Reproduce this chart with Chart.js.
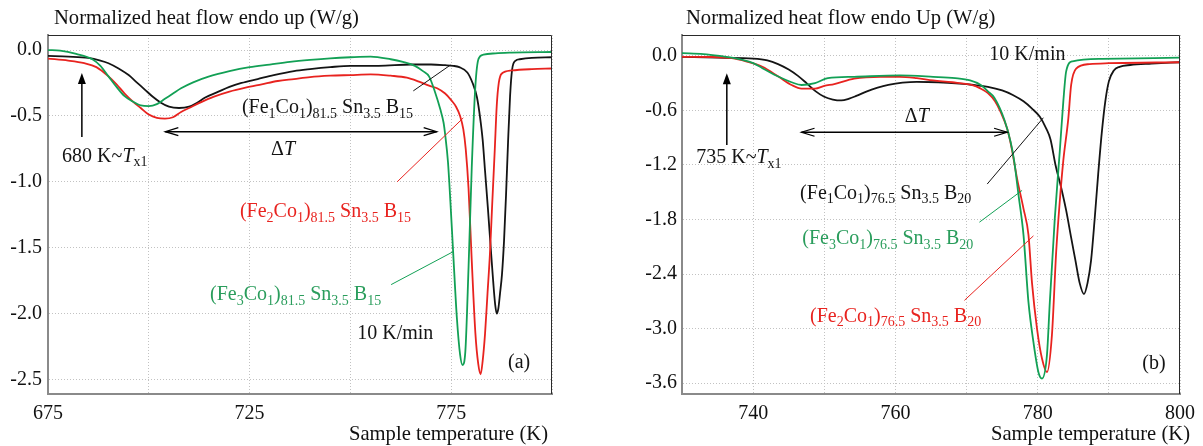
<!DOCTYPE html>
<html><head><meta charset="utf-8">
<script src="https://cdn.jsdelivr.net/npm/chart.js@4.4.0/dist/chart.umd.min.js"></script>
<style>
html,body{margin:0;padding:0;background:#fff;width:1203px;height:446px;overflow:hidden}
#a{position:absolute;left:0;top:0}
#b{position:absolute;left:600px;top:0}
</style></head><body>
<canvas id="a" width="600" height="446"></canvas>
<canvas id="b" width="603" height="446"></canvas>
<script>
// ---------------- (a) panel data ----------------
const aGreenT = [675,678,682,686,688,690,692,694,696,698,700,702,704,706,708,711,715,720,725,730,735,740,745,750,755,760,763,766,768,769.5,771,772.3,773.1,773.5,774.2,774.8,775.6,776.4,777.2,777.8,778.5,779.3,780.1,781,781.8,783,786,790,800];
const aGreenV = [0.00,-0.005,-0.03,-0.07,-0.12,-0.20,-0.28,-0.35,-0.39,-0.42,-0.425,-0.41,-0.37,-0.33,-0.29,-0.245,-0.20,-0.16,-0.13,-0.11,-0.09,-0.075,-0.063,-0.055,-0.05,-0.07,-0.09,-0.12,-0.16,-0.20,-0.32,-0.45,-0.55,-0.64,-0.85,-1.15,-1.6,-2.03,-2.31,-2.39,-2.29,-1.65,-0.89,-0.27,-0.065,-0.035,-0.025,-0.02,-0.015];

const aRedT = [675,680,684,687,690,692,694,696,698,700,702,704,706,708,710,713,716,720,724,728,732,736,740,745,750,755,760,764,767,769.5,771.5,773.5,775,776.2,777.2,778,778.6,779.3,780.1,781,781.7,782.3,782.8,783.4,784,784.6,785.2,785.8,786.3,786.8,787.5,790,795,800];
const aRedV = [-0.065,-0.08,-0.10,-0.13,-0.20,-0.26,-0.33,-0.39,-0.44,-0.49,-0.515,-0.52,-0.51,-0.47,-0.44,-0.395,-0.355,-0.315,-0.285,-0.26,-0.235,-0.22,-0.205,-0.195,-0.19,-0.185,-0.195,-0.21,-0.24,-0.27,-0.29,-0.33,-0.38,-0.43,-0.50,-0.60,-0.75,-1.05,-1.60,-2.15,-2.38,-2.46,-2.36,-2.15,-1.85,-1.55,-1.15,-0.76,-0.42,-0.25,-0.18,-0.155,-0.145,-0.14];

const aBlackT = [675,680,685,688,690,692.5,695,697,699,701,703,705,707.5,710,712,714,717,720,723,727,731,736,740,745,750,757,765,770,773.5,775.5,777,779,780.3,781.4,782.2,782.8,783.4,784.1,784.8,785.4,785.9,786.3,786.7,787.1,787.6,788.1,788.6,789.1,789.6,790.1,791,792,795,800];
const aBlackV = [-0.045,-0.05,-0.06,-0.08,-0.10,-0.14,-0.19,-0.245,-0.30,-0.355,-0.40,-0.43,-0.44,-0.43,-0.40,-0.36,-0.32,-0.28,-0.25,-0.22,-0.19,-0.16,-0.145,-0.13,-0.12,-0.12,-0.11,-0.11,-0.115,-0.12,-0.13,-0.17,-0.25,-0.36,-0.52,-0.68,-0.92,-1.2,-1.5,-1.75,-1.93,-2.0,-1.96,-1.85,-1.7,-1.45,-1.1,-0.7,-0.35,-0.15,-0.08,-0.07,-0.06,-0.055];

const aXTicks = [675,700,725,750,775,800];
const aXLabels = [675,725,775];
const aYTicks = [0,-0.5,-1.0,-1.5,-2.0,-2.5];

// ---------------- (b) panel data ----------------
const bGreenT = [730,733,735.3,737,738.5,740,741.3,743.6,745.4,746.8,748.7,750.5,754.2,760.6,765.3,768.4,770.5,772,773,773.9,775.3,776.2,776.7,777.3,778,778.7,779.4,780.1,780.6,781.3,781.7,782.4,783.1,783.6,784,784.9,789.1,800];
const bGreenV = [0.03,0.02,0.0,-0.02,-0.044,-0.08,-0.135,-0.23,-0.29,-0.32,-0.30,-0.245,-0.23,-0.215,-0.23,-0.245,-0.27,-0.32,-0.39,-0.46,-0.70,-0.95,-1.16,-1.53,-1.97,-2.71,-3.15,-3.48,-3.55,-3.29,-2.71,-1.79,-1.05,-0.50,-0.17,-0.06,-0.033,-0.02];

const bRedT = [730,734,737,739,741.3,743.6,745.4,746.8,748.7,750,751.4,754.2,757.9,760.6,763,765.3,768,770.7,772,773,774,774.8,775.7,776.3,777.1,778,778.7,779.2,779.9,780.6,781.3,782,782.6,783.1,783.6,784.3,784.7,785.4,787.3,790,800];
const bRedV = [-0.01,-0.012,-0.025,-0.06,-0.12,-0.23,-0.32,-0.36,-0.36,-0.33,-0.31,-0.25,-0.23,-0.23,-0.245,-0.27,-0.29,-0.32,-0.36,-0.41,-0.50,-0.62,-0.80,-1.0,-1.35,-1.68,-1.97,-2.5,-3.0,-3.33,-3.48,-3.07,-2.15,-1.6,-1.15,-0.69,-0.32,-0.14,-0.09,-0.08,-0.07];

const bBlackT = [730,735,740,742,743.5,745,746.3,747.5,748.8,750,751.2,752.4,753.5,754.5,756,757.5,759,761,763,766,769,771,773,775,776.5,778,779.2,780.3,781.2,781.8,782.5,783.3,784,784.7,785.3,785.9,786.5,787,787.5,788,788.5,789,789.5,790,790.7,791.5,793,796,800];
const bBlackV = [-0.01,-0.02,-0.03,-0.05,-0.09,-0.15,-0.22,-0.30,-0.39,-0.45,-0.48,-0.49,-0.47,-0.44,-0.39,-0.35,-0.32,-0.295,-0.285,-0.29,-0.305,-0.32,-0.34,-0.38,-0.43,-0.50,-0.58,-0.67,-0.80,-0.92,-1.2,-1.45,-1.7,-2.0,-2.25,-2.5,-2.62,-2.5,-2.25,-1.8,-1.3,-0.85,-0.5,-0.28,-0.16,-0.12,-0.10,-0.085,-0.07];

const bXTicks = [740,750,760,770,780,790,800];
const bXLabels = [740,760,780,800];
const bYTicks = [0,-0.6,-1.2,-1.8,-2.4,-3.0,-3.6];

// ---------------- styling ----------------
const BLACK = '#141414', RED = '#e8231f', GREEN = '#12a055', GREENTXT = '#2a9d5c';
const FONT = '"Liberation Serif", "Times New Roman", serif';
const FS = 20, FT = 20.6;

function pts(T, V){ return T.map((t,i)=>({x:t,y:V[i]})); }

function drawRuns(ctx, x, yc, runs, color, size, align){
  const sub = Math.round(size*0.7);
  const base = yc + size*0.33;
  ctx.save();
  ctx.fillStyle = color; ctx.textBaseline = 'alphabetic'; ctx.textAlign = 'left';
  let w = 0;
  for (const [t,k] of runs){
    ctx.font = (k==='s') ? `${sub}px ${FONT}` : (k==='i' ? `italic ${size}px ${FONT}` : `${size}px ${FONT}`);
    w += ctx.measureText(t).width;
  }
  let cx = align==='right' ? x - w : (align==='center' ? x - w/2 : x);
  for (const [t,k] of runs){
    if (k==='s'){ ctx.font = `${sub}px ${FONT}`; ctx.fillText(t, cx, base + size*0.22); }
    else if (k==='i'){ ctx.font = `italic ${size}px ${FONT}`; ctx.fillText(t, cx, base); }
    else { ctx.font = `${size}px ${FONT}`; ctx.fillText(t, cx, base); }
    cx += ctx.measureText(t).width;
  }
  ctx.restore();
}

function alloy(a, b, d){
  return [['(Fe'],[a,'s'],['Co'],['1','s'],[')'],[b,'s'],[' Sn'],['3.5','s'],[' B'],[d,'s']];
}

const annotA = {
  yTitle: {x: 54, y: 17, text: 'Normalized heat flow endo up (W/g)'},
  xTitle: {x: 548, y: 433, text: 'Sample temperature (K)'},
  up: [{T:683.4, v0:-0.66, v1:-0.175}],
  dbl: [{T0:704.1, T1:771.4, v:-0.62}],
  leaders: [
    {T0:765.6, v0:-0.31, T1:774.8, v1:-0.114, c:BLACK},
    {T0:761.6, v0:-1.0, T1:778.0, v1:-0.515, c:RED},
    {T0:760.1, v0:-1.78, T1:775.5, v1:-1.53, c:GREEN}
  ],
  texts: [
    {T:678.5, v:-0.80, runs:[['680 K~'],['T','i'],['x1','s']], c:BLACK},
    {T:733.3, v:-0.75, runs:[['Δ'],['T','i']], c:BLACK, align:'center'},
    {T:723.1, v:-0.43, runs:alloy('1','81.5','15'), c:BLACK},
    {T:722.6, v:-1.22, runs:alloy('2','81.5','15'), c:RED},
    {T:715.2, v:-1.85, runs:alloy('3','81.5','15'), c:GREENTXT},
    {T:751.7, v:-2.14, runs:[['10 K/min']], c:BLACK},
    {T:789.1, v:-2.36, runs:[['(a)']], c:BLACK}
  ]
};
const annotB = {
  yTitle: {x: 86, y: 17, text: 'Normalized heat flow endo Up (W/g)'},
  xTitle: {x: 590, y: 433, text: 'Sample temperature (K)'},
  up: [{T:736.3, v0:-0.98, v1:-0.19}],
  dbl: [{T0:746.8, T1:775.7, v:-0.84}],
  leaders: [
    {T0:772.9, v0:-1.41, T1:780.8, v1:-0.68, c:BLACK},
    {T0:771.8, v0:-1.83, T1:777.8, v1:-1.48, c:GREEN},
    {T0:769.7, v0:-2.69, T1:779.4, v1:-1.98, c:RED}
  ],
  texts: [
    {T:773.2, v:0.033, runs:[['10 K/min']], c:BLACK},
    {T:732.0, v:-1.11, runs:[['735 K~'],['T','i'],['x1','s']], c:BLACK},
    {T:763.0, v:-0.66, runs:[['Δ'],['T','i']], c:BLACK, align:'center'},
    {T:746.6, v:-1.50, runs:alloy('1','76.5','20'), c:BLACK},
    {T:746.9, v:-2.00, runs:alloy('3','76.5','20'), c:GREENTXT},
    {T:748.0, v:-2.85, runs:alloy('2','76.5','20'), c:RED},
    {T:794.7, v:-3.37, runs:[['(b)']], c:BLACK}
  ]
};

const decor = {
  id: 'decor',
  afterDraw(chart, args, opts){
    const an = opts.an; if(!an) return;
    const ctx = chart.ctx, xs = chart.scales.x, ys = chart.scales.y, ca = chart.chartArea;
    const X = v => xs.getPixelForValue(v), Y = v => ys.getPixelForValue(v);
    ctx.save();
    ctx.strokeStyle = '#2a2a2a'; ctx.lineWidth = 1;
    ctx.beginPath();
    ctx.moveTo(ca.left, ca.top+0.5); ctx.lineTo(ca.right-0.5, ca.top+0.5); ctx.lineTo(ca.right-0.5, ca.bottom);
    ctx.stroke();
    for (const l of an.leaders){
      ctx.strokeStyle = l.c; ctx.lineWidth = 1;
      ctx.beginPath(); ctx.moveTo(X(l.T0), Y(l.v0)); ctx.lineTo(X(l.T1), Y(l.v1)); ctx.stroke();
    }
    ctx.strokeStyle = '#000'; ctx.fillStyle = '#000'; ctx.lineWidth = 1.5;
    for (const a of an.up){
      const x = X(a.T), y0 = Y(a.v0), y1 = Y(a.v1);
      ctx.beginPath(); ctx.moveTo(x, y0); ctx.lineTo(x, y1+8); ctx.stroke();
      ctx.beginPath(); ctx.moveTo(x, y1); ctx.lineTo(x-4, y1+11); ctx.lineTo(x+4, y1+11); ctx.closePath(); ctx.fill();
    }
    ctx.lineWidth = 1.3;
    for (const d of an.dbl){
      const x0 = X(d.T0), x1 = X(d.T1), y = Y(d.v);
      ctx.beginPath(); ctx.moveTo(x0, y); ctx.lineTo(x1, y); ctx.stroke();
      ctx.beginPath(); ctx.moveTo(x0+13, y-4); ctx.lineTo(x0, y); ctx.lineTo(x0+13, y+4); ctx.stroke();
      ctx.beginPath(); ctx.moveTo(x1-13, y-4); ctx.lineTo(x1, y); ctx.lineTo(x1-13, y+4); ctx.stroke();
    }
    for (const t of an.texts){
      drawRuns(ctx, X(t.T), Y(t.v), t.runs, t.c, FS, t.align||'left');
    }
    drawRuns(ctx, an.yTitle.x, an.yTitle.y, [[an.yTitle.text]], '#111', FT, 'left');
    drawRuns(ctx, an.xTitle.x, an.xTitle.y, [[an.xTitle.text]], '#111', FT, 'right');
    ctx.restore();
  }
};

function makeChart(id, sets, xr, yr, xTicks, xLabels, yTicks, an, leftW, rightPad, yPad){
  const datasets = [
    {data: pts(sets.gT, sets.gV), borderColor: GREEN},
    {data: pts(sets.rT, sets.rV), borderColor: RED},
    {data: pts(sets.kT, sets.kV), borderColor: BLACK}
  ].map(d => Object.assign(d, {borderWidth: 1.8, pointRadius: 0, fill: false, cubicInterpolationMode: 'monotone'}));
  return new Chart(document.getElementById(id), {
    type: 'line',
    data: {datasets},
    plugins: [decor],
    options: {
      responsive: false, animation: false, devicePixelRatio: 1,
      layout: {padding: {left: 0, top: 35, right: rightPad, bottom: 0}},
      plugins: {legend: {display: false}, tooltip: {enabled: false}, decor: {an}},
      scales: {
        x: {
          type: 'linear', min: xr[0], max: xr[1],
          afterBuildTicks: s => { s.ticks = xTicks.map(v => ({value: v})); },
          afterFit: s => { s.height = 52; },
          ticks: {autoSkip: false, maxRotation: 0, padding: 8, color: '#111',
                  font: {family: FONT, size: FS},
                  callback: v => xLabels.includes(v) ? String(v) : ''},
          grid: {color: '#c2c2c2', lineWidth: 1, drawTicks: false},
          border: {display: true, color: '#8a8a8a', width: 2, dash: [1, 2]}
        },
        y: {
          type: 'linear', min: yr[0], max: yr[1],
          afterBuildTicks: s => { s.ticks = yTicks.map(v => ({value: v})); },
          afterFit: s => { s.width = leftW; },
          ticks: {padding: yPad, color: '#111', font: {family: FONT, size: FS},
                  callback: v => v.toFixed(1)},
          grid: {color: '#c2c2c2', lineWidth: 1, drawTicks: false},
          border: {display: true, color: '#8a8a8a', width: 2, dash: [1, 2]}
        }
      }
    }
  });
}

makeChart('a', {gT:aGreenT,gV:aGreenV,rT:aRedT,rV:aRedV,kT:aBlackT,kV:aBlackV},
  [675, 800], [-2.61, 0.114], aXTicks, aXLabels, aYTicks, annotA, 48, 48, 6);
makeChart('b', {gT:bGreenT,gV:bGreenV,rT:bRedT,rV:bRedV,kT:bBlackT,kV:bBlackV},
  [730, 800], [-3.72, 0.23], bXTicks, bXLabels, bYTicks, annotB, 82, 16, 5);
</script>
</body></html>
